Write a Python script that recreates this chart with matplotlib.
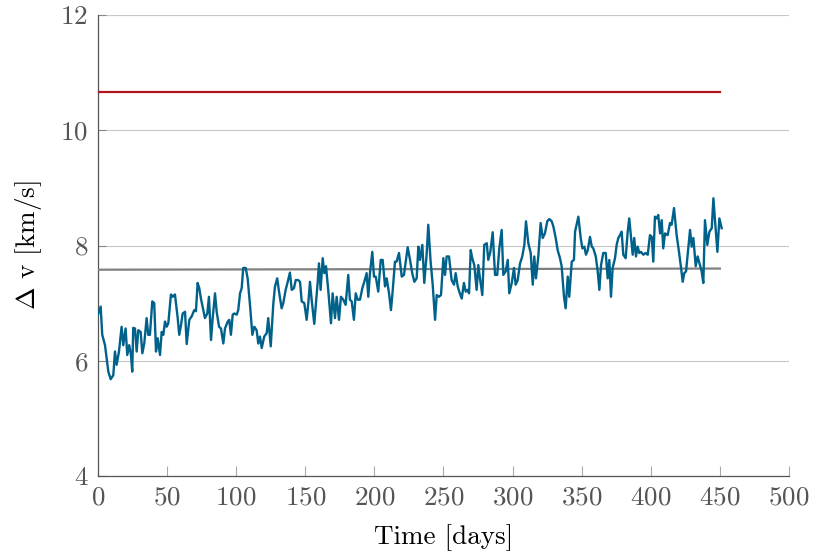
import matplotlib
matplotlib.use("Agg")
import matplotlib.pyplot as plt

plt.rcParams['font.family'] = 'serif'
plt.rcParams['font.serif'] = ['cmr10']
plt.rcParams['mathtext.fontset'] = 'cm'
plt.rcParams['axes.formatter.use_mathtext'] = True

days = [0.0, 1.95, 3.1, 5.1, 7.5, 9.2, 11.1, 12.3, 13.5, 15.2, 17.1, 18.3, 20.0, 21.2, 22.6, 23.9, 24.8, 25.5,
        26.8, 28.0, 29.2, 30.9, 32.1, 33.5, 35.2, 36.4, 37.6, 39.3, 40.7, 42.0, 43.2, 44.9, 46.1, 47.3, 48.5,
        49.7, 50.9, 52.8, 54.1, 55.7, 57.7, 58.8, 60.1, 61.3, 63.0, 64.2, 66.1, 67.8, 69.7, 70.9, 72.1, 73.3,
        74.5, 76.2, 77.4, 79.1, 80.3, 81.8, 83.0, 84.7, 85.9, 87.6, 89.0, 90.7, 91.9, 93.9, 95.0, 96.2, 97.5,
        98.6, 100.4, 101.5, 102.8, 104.0, 105.1, 106.9, 108.3, 110.0, 111.7, 113.1,
        114.8, 116.0, 117.2, 118.5, 120.3, 122.1, 123.2, 125.0, 126.9, 128.1, 129.7, 131.0, 132.9, 134.1,
        135.8, 137.3, 138.9, 140.2, 141.8, 143.1, 144.9, 146.2, 147.4, 149.3, 151.0, 152.2, 153.4, 154.6,
        156.5, 157.7, 159.0, 159.9, 161.1, 162.6, 163.8, 165.0, 166.6, 168.6, 169.8, 171.5, 172.7, 174.4,
        175.8, 177.5, 179.2, 181.1, 182.3, 183.6, 185.2, 186.5, 187.9, 189.6, 191.3, 192.7, 194.4, 195.6,
        196.8, 198.5, 199.7, 201.0, 202.8, 204.6, 206.0, 207.7, 208.9, 210.6, 212.0, 213.2, 214.9, 216.1,
        217.8, 219.8, 221.4, 222.7, 224.1, 225.8, 227.4, 228.9,
        230.6, 231.8, 233.0, 234.7, 236.1, 237.8, 239.0, 240.7, 242.2, 243.9, 245.1, 246.7, 248.2, 249.9,
        251.1, 252.3, 254.0, 255.9, 257.6, 258.8, 260.3, 261.4, 263.2, 264.8, 266.1, 267.5, 268.5, 269.7,
        270.8, 272.3, 274.0, 275.2, 276.4, 278.1, 279.5, 281.3, 282.4, 283.9, 285.6, 287.3, 288.9, 290.4,
        292.1, 293.3, 295.0, 296.5, 297.6, 299.4, 301.0, 302.2, 303.7, 305.4, 307.0, 308.5, 309.7, 311.4,
        313.1, 314.6, 315.7, 316.9, 318.6, 320.3, 321.8, 323.4, 325.1, 326.6, 328.3, 329.5, 331.2, 332.6,
        334.3, 335.5, 337.2, 338.4, 339.9, 341.0, 342.8, 344.4,
        345.2, 347.6, 349.3, 350.5, 351.9, 353.1, 354.4, 356.0, 357.3, 358.4, 360.2, 361.6, 362.8, 364.0,
        365.6, 367.4, 368.8, 370.0, 371.2, 372.4, 374.1, 375.3, 376.5, 377.7, 378.9, 380.1, 381.8, 383.3,
        384.4, 385.7, 386.9, 388.0, 389.3, 390.5, 391.7, 392.9, 394.6, 396.3, 397.8, 399.4, 400.7, 401.8,
        403.0, 404.3, 405.4, 406.7, 407.9, 409.0, 410.3, 412.2, 413.9, 415.1, 416.8, 418.7, 420.4, 421.9,
        423.1, 424.2, 425.5, 427.1, 428.4, 429.6, 430.8, 432.5, 433.9, 435.6, 436.8, 438.0, 439.2, 440.9,
        442.4, 444.1, 445.3, 446.5, 448.2, 449.6, 451.3]

delta_v = [6.80, 6.94, 6.45, 6.27, 5.81, 5.68, 5.75, 6.16, 5.93, 6.16, 6.59, 6.27, 6.56, 6.10, 6.27, 6.10, 5.81, 6.57,
           6.56, 6.16, 6.53, 6.50, 6.13, 6.30, 6.74, 6.45, 6.45, 7.03, 7.00, 6.16, 6.39, 6.10, 6.50, 6.45, 6.68,
           6.59, 6.65, 7.15, 7.11, 7.15, 6.74, 6.45, 6.62, 6.82, 6.85, 6.29, 6.71, 6.77, 6.88, 6.86, 7.35, 7.26,
           7.08, 6.88, 6.74, 6.82, 7.11, 6.36, 6.74, 7.17, 6.85, 6.59, 6.56, 6.30, 6.56, 6.68, 6.71, 6.45, 6.80,
           6.82, 6.80, 6.88, 7.17, 7.26, 7.61, 7.61, 7.43, 6.97, 6.45, 6.59,
           6.53, 6.30, 6.42, 6.22, 6.42, 6.48, 6.74, 6.25, 7.00, 7.29, 7.43, 7.20, 6.91, 7.00,
           7.23, 7.37, 7.53, 7.23, 7.26, 7.40, 7.40, 7.37, 7.03, 7.00, 6.71, 7.00, 7.37, 7.06,
           6.64, 7.00, 7.37, 7.69, 7.23, 7.78, 7.52, 7.64, 7.23, 6.65, 7.17, 6.74, 7.11, 6.71,
           7.11, 7.06, 6.97, 7.49, 7.06, 7.03, 6.71, 7.17, 7.06, 7.06, 7.26, 7.37, 7.52, 7.11,
           7.52, 7.89, 7.46, 7.46, 7.20, 7.75, 7.75, 7.29, 7.43, 7.17, 6.88, 7.20, 7.72, 7.72,
           7.87, 7.46, 7.49, 7.72, 7.97, 7.75, 7.52, 7.37,
           7.43, 7.98, 7.75, 8.01, 7.35, 7.84, 8.36, 7.72, 7.32, 6.71, 7.14, 7.11, 7.14, 7.78,
           7.49, 7.81, 7.81, 7.40, 7.32, 7.52, 7.29, 7.20, 7.08, 7.35, 7.20, 7.23, 7.17, 7.92,
           7.78, 7.66, 7.23, 7.66, 7.43, 7.14, 8.01, 8.04, 7.75, 7.89, 8.23, 7.49, 7.49, 7.95,
           8.27, 7.49, 7.55, 7.75, 7.17, 7.35, 7.61, 7.32, 7.40, 7.69, 7.81, 8.01, 8.42, 8.04,
           7.87, 7.32, 7.81, 7.43, 7.81, 8.39, 8.13, 8.21, 8.42, 8.46, 8.42, 8.33, 8.13, 7.92,
           7.78, 7.64, 7.11, 6.91, 7.46, 7.11, 7.72, 7.75,
           8.24, 8.50, 8.13, 7.95, 7.98, 7.84, 7.92, 8.15, 7.98, 7.95, 7.81, 7.55, 7.23, 7.66,
           7.87, 7.87, 7.43, 7.75, 7.11, 7.61, 7.78, 8.01, 8.13, 8.18, 8.24, 7.84, 7.78, 8.24,
           8.47, 8.15, 7.84, 8.13, 7.81, 7.98, 7.87, 7.89, 7.84, 7.87, 7.84, 8.18, 8.15, 7.72,
           8.50, 8.47, 8.53, 8.21, 8.44, 7.95, 8.21, 8.18, 8.39, 8.36, 8.65, 8.18, 7.89, 7.61,
           7.37, 7.52, 7.55, 7.95, 8.27, 7.98, 8.13, 7.64, 7.81, 7.66, 7.55, 7.35, 8.44, 8.01,
           8.24, 8.30, 8.82, 8.42, 7.89, 8.47, 8.30]

ref_days = [0, 450]
red_level = [10.66, 10.66]
gray_level = [7.58, 7.60]

x_ticks = [0, 50, 100, 150, 200, 250, 300, 350, 400, 450, 500]
y_ticks = [4, 6, 8, 10, 12]

fig = plt.figure(figsize=(8.15, 5.56), dpi=100)
ax = fig.add_axes([0.1202, 0.1439, 0.8479, 0.8291])

ax.plot(ref_days, red_level, color='#b0141c', lw=1.6, zorder=3)
ax.plot(ref_days, gray_level, color='#808080', lw=1.6, zorder=3)
ax.plot(days, delta_v, color='#00618a', lw=1.7, zorder=4)

ax.set_xlim(0, 500)
ax.set_ylim(4, 12)
ax.set_xticks(x_ticks)
ax.set_yticks(y_ticks)
ax.yaxis.grid(True, color='#c8c8c8', lw=0.8)
ax.set_axisbelow(True)

for s in ['top', 'right']:
    ax.spines[s].set_visible(False)
for s in ['left', 'bottom']:
    ax.spines[s].set_color('#555555')
    ax.spines[s].set_linewidth(0.9)

ax.tick_params(axis='x', direction='in', length=7, width=0.8, color='#aaaaaa',
               labelsize=19.5, labelcolor='#555555', pad=7)
ax.tick_params(axis='y', direction='in', length=6, width=0.8, color='#888888',
               labelsize=19.5, labelcolor='#555555', pad=7)

ax.set_xlabel('Time [days]', fontsize=19.5, labelpad=11)
ax.set_ylabel(r'$\Delta$ v [km/s]', fontsize=19.5, labelpad=12)

fig.savefig('out.png', dpi=100)
